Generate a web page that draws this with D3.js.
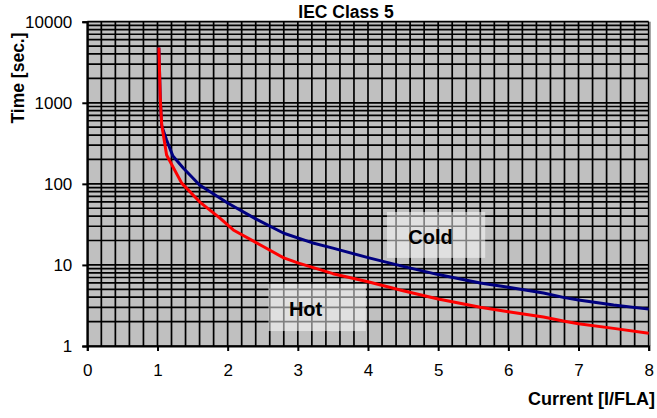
<!DOCTYPE html>
<html><head><meta charset="utf-8">
<script src="https://cdn.jsdelivr.net/npm/d3@7"></script>
<style>
html,body{margin:0;padding:0;background:#fff;}
text{font-family:"Liberation Sans",Arial,sans-serif;}
</style></head>
<body><svg id="c" width="657" height="418"></svg>
<script>
// ---- data ----
const title = "IEC Class 5";
const xTitle = "Current [I/FLA]";
const yTitle = "Time [sec.]";
const xTicks = [0,1,2,3,4,5,6,7,8];
const yTicks = [1,10,100,1000,10000];
const coldX = [1.02,1.04,1.06,1.13,1.22,1.37,1.6,2.0,2.4,2.8,3.2,3.5,4.0,4.5,5.0,5.6,6.0,6.5,6.8,7.0,7.5,8.0];
const coldY = [4800,1100,520,348,220,156,97,58,37,24.6,18.8,16.1,12.3,9.6,7.6,6.0,5.3,4.5,3.95,3.7,3.2,2.85];
const hotX  = [1.02,1.04,1.06,1.13,1.345,1.6,1.89,2.08,2.5,2.8,3.0,3.5,4.0,4.5,5.0,5.6,6.0,6.5,6.8,7.0,7.5,8.0];
const hotY  = [4800,1100,540,227,102,60,37.7,27,17,12.2,10.6,7.8,6.2,4.8,3.8,3.0,2.65,2.28,2.02,1.88,1.65,1.44];
const labels = ["Cold","Hot"];
const labelX = [4.89,3.11];
const labelY = [22,2.87];
const boxX0 = [4.27,2.58], boxX1 = [5.67,3.97];
const boxYTop = [45,5.83], boxYBot = [12.2,1.53];

const svg = d3.select("#c");
const L=87.3, R=648.7, T=21.7, B=346;
const x = d3.scaleLinear().domain([0,8]).range([L,R]);
const y = d3.scaleLog().domain([1,10000]).range([B,T]);

const g = svg.append("g");
g.append("rect").attr("x",L).attr("y",T).attr("width",R-L).attr("height",B-T).attr("fill","#c0c0c0");

// grid
const hLines=[];
for(let d=1; d<=1000; d*=10) for(let m=1;m<10;m++) hLines.push(d*m);
hLines.push(10000);
const vLines = d3.range(0,41).map(i=>i/5);
g.selectAll(".hg").data(hLines).join("line")
 .attr("x1",L).attr("x2",R).attr("y1",d=>y(d)).attr("y2",d=>y(d))
 .attr("stroke","#000").attr("stroke-width",1.7);
g.selectAll(".vg").data(vLines).join("line")
 .attr("y1",T).attr("y2",B).attr("x1",d=>x(d)).attr("x2",d=>x(d))
 .attr("stroke","#000").attr("stroke-width",1.7);
g.append("line").attr("x1",R+1.5).attr("x2",R+1.5).attr("y1",T).attr("y2",B).attr("stroke","#808080").attr("stroke-width",1);

// curves
const line = d3.line().x(d=>x(d[0])).y(d=>y(d[1]));
g.append("path").datum(coldX.map((v,i)=>[v,coldY[i]])).attr("d",line)
 .attr("fill","none").attr("stroke","#000080").attr("stroke-width",3).attr("stroke-linejoin","round");
g.append("path").datum(hotX.map((v,i)=>[v,hotY[i]])).attr("d",line)
 .attr("fill","none").attr("stroke","#ff0000").attr("stroke-width",3).attr("stroke-linejoin","round");

// label boxes
labels.forEach((t,i)=>{
  g.append("rect").attr("x",x(boxX0[i])).attr("y",y(boxYTop[i]))
   .attr("width",x(boxX1[i])-x(boxX0[i])).attr("height",y(boxYBot[i])-y(boxYTop[i]))
   .attr("fill","#fff").attr("fill-opacity",0.5);
  g.append("text").attr("x",x(labelX[i])).attr("y",y(labelY[i])).attr("dy","0.36em")
   .attr("text-anchor","middle").attr("font-weight","bold").attr("font-size",20).text(t);
});

// axes
const xAxis = d3.axisBottom(x).tickValues(xTicks).tickSize(5).tickFormat(d3.format("d"));
const ax = svg.append("g").attr("transform",`translate(0,${B})`).call(xAxis);
ax.select(".domain").attr("stroke-width",2);
ax.selectAll(".tick line").attr("stroke-width",2);
ax.selectAll("text").attr("font-size",17).attr("font-family","Liberation Sans, Arial").attr("dy","1.3em");

const yAxis = d3.axisLeft(y).tickValues(yTicks).tickSize(5).tickFormat(d3.format("d"));
const ay = svg.append("g").attr("transform",`translate(${L},0)`).call(yAxis);
ay.select(".domain").attr("stroke-width",2);
ay.selectAll(".tick line").attr("stroke-width",2);
ay.selectAll("text").attr("font-size",17).attr("font-family","Liberation Sans, Arial").attr("x",-15);

// titles
svg.append("text").attr("x",346).attr("y",18).attr("text-anchor","middle")
 .attr("font-weight","bold").attr("font-size",17.5).text(title);
svg.append("text").attr("x",655).attr("y",405).attr("text-anchor","end")
 .attr("font-weight","bold").attr("font-size",18).text(xTitle);
svg.append("text").attr("transform","translate(24,78) rotate(-90)").attr("text-anchor","middle")
 .attr("font-weight","bold").attr("font-size",17.5).text(yTitle);
</script></body></html>
